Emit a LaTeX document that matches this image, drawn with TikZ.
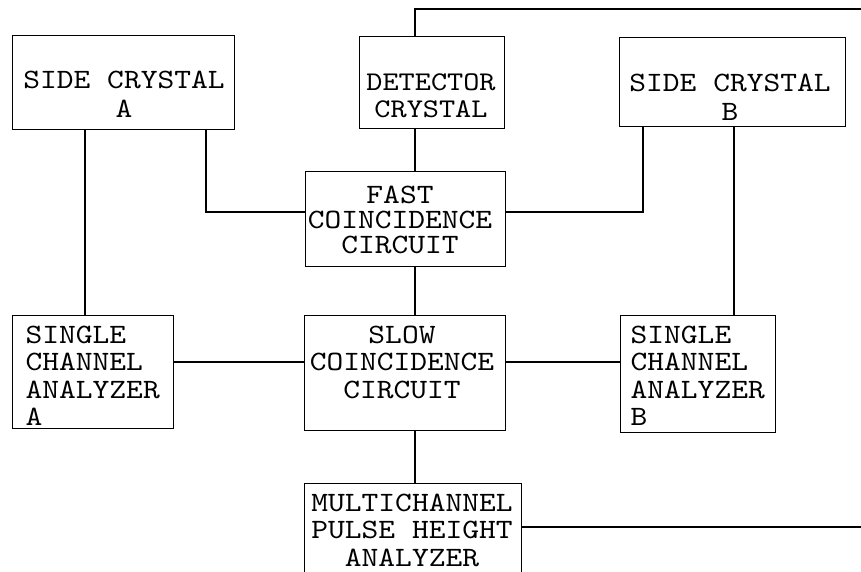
\documentclass[tikz,border=0pt]{standalone}
\usepackage{fontspec}
\newfontfamily\tw[FakeStretch=1.14]{lmmono10-regular.otf}
\begin{document}
\begin{tikzpicture}[x=1pt,y=-1pt,line width=1.4pt,
  blk/.style={draw=black,rectangle,inner sep=0pt,anchor=north west},
  lbl/.style={inner sep=0pt,font=\tw\fontsize{28}{27.5}\selectfont,align=center,anchor=north},
  lbll/.style={inner sep=0pt,font=\tw\fontsize{28}{27.5}\selectfont,align=left,anchor=north west},
  wire/.style={draw=black,line width=1.4pt}]
\useasboundingbox (0,0) rectangle (861,571);
\clip (0,0) rectangle (861,571);
\fill[white] (0,0) rectangle (861,571);
% boxes
\node[blk,minimum width=222pt,minimum height=94pt] (sa) at (12,35) {};
\node[blk,minimum width=145pt,minimum height=92pt] (dc) at (359,36) {};
\node[blk,minimum width=226pt,minimum height=89pt] (sb) at (619,37) {};
\node[blk,minimum width=200pt,minimum height=95pt] (fc) at (305,171) {};
\node[blk,minimum width=161pt,minimum height=113pt] (sca) at (12,315) {};
\node[blk,minimum width=201pt,minimum height=115pt] (sl) at (304,315) {};
\node[blk,minimum width=155pt,minimum height=117pt] (scb) at (620,315) {};
\node[blk,minimum width=217pt,minimum height=120pt] (mca) at (304,483) {};
% texts
\node[lbl,font=\tw\fontsize{28}{29}\selectfont] (tsa) at (124,70) {SIDE CRYSTAL\\A};
\node[lbl,font=\tw\fontsize{27}{27}\selectfont] (tdc) at (431,73) {DETECTOR\\CRYSTAL};
\node[lbl,font=\tw\fontsize{28}{29}\selectfont] (tsb) at (730,73) {SIDE CRYSTAL\\B};
\node[lbl,font=\tw\fontsize{28}{25}\selectfont] (tfc) at (400,185) {FAST\\COINCIDENCE\\CIRCUIT};
\node[lbl] (tsl) at (402,325) {SLOW\\COINCIDENCE\\CIRCUIT};
\node[lbll] (tsca) at (25,325) {SINGLE\\CHANNEL\\ANALYZER\\A};
\node[lbll] (tscb) at (630,325) {SINGLE\\CHANNEL\\ANALYZER\\B};
\node[lbl] (tmca) at (412,493) {MULTICHANNEL\\PULSE HEIGHT\\ANALYZER};
% free ends
\coordinate (tr) at (870,9);
\coordinate (br) at (870,527);
% connectors
\draw[wire] (85,0 |- sa.south) -- (85,0 |- sca.north);
\draw[wire] (206,0 |- sa.south) |- (fc.west |- 0,212);
\draw[wire] (415,0 |- dc.south) -- (415,0 |- fc.north);
\draw[wire] (643,0 |- sb.south) |- (fc.east |- 0,212);
\draw[wire] (734,0 |- sb.south) -- (734,0 |- scb.north);
\draw[wire] (415,0 |- fc.south) -- (415,0 |- sl.north);
\draw[wire] (sca.east |- 0,362) -- (sl.west |- 0,362);
\draw[wire] (sl.east |- 0,362) -- (scb.west |- 0,362);
\draw[wire] (415,0 |- sl.south) -- (415,0 |- mca.north);
\draw[wire] (mca.east |- 0,527) -- (br);
\draw[wire] (415,0 |- dc.north) |- (tr);
\end{tikzpicture}
\end{document}
